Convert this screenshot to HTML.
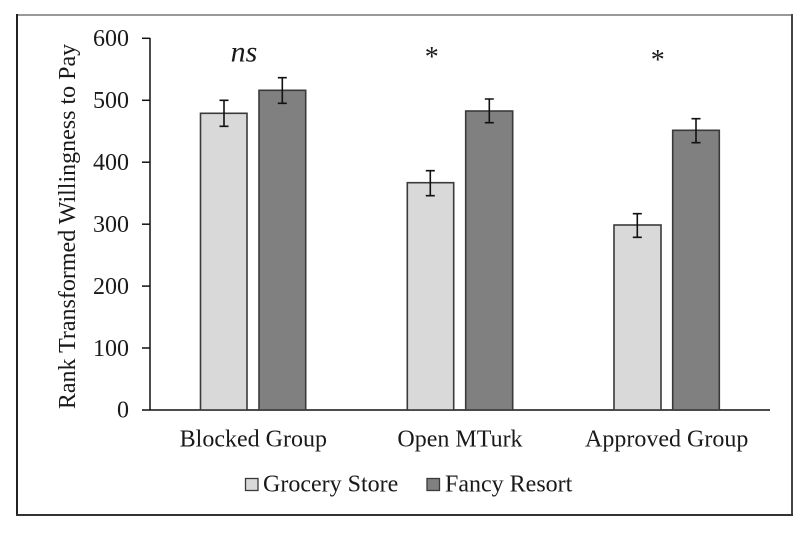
<!DOCTYPE html>
<html><head><meta charset="utf-8"><style>
html,body{margin:0;padding:0;background:#fff;}
svg{display:block;}
text{font-family:"Liberation Serif","Times New Roman",serif;fill:#1a1a1a;}
</style></head><body>
<svg width="807" height="533" viewBox="0 0 807 533" xmlns="http://www.w3.org/2000/svg">
<rect x="0" y="0" width="807" height="533" fill="#fff"/>
<!-- frame -->
<line x1="16" y1="15" x2="793" y2="15" stroke="#999" stroke-width="2"/>
<line x1="17" y1="14" x2="17" y2="516" stroke="#222" stroke-width="2"/>
<line x1="792" y1="14" x2="792" y2="516" stroke="#444" stroke-width="2"/>
<line x1="16" y1="515" x2="793" y2="515" stroke="#333" stroke-width="2"/>

<!-- y axis title -->
<text transform="translate(75,226.5) rotate(-90)" text-anchor="middle" font-size="24">Rank Transformed Willingness to Pay</text>

<!-- ticks & labels -->
<g stroke="#111" stroke-width="1.5">
<line x1="150" y1="38" x2="150" y2="410.5"/>
<line x1="142" y1="38.3" x2="150" y2="38.3"/>
<line x1="142" y1="100.3" x2="150" y2="100.3"/>
<line x1="142" y1="162.2" x2="150" y2="162.2"/>
<line x1="142" y1="224.2" x2="150" y2="224.2"/>
<line x1="142" y1="286.1" x2="150" y2="286.1"/>
<line x1="142" y1="348" x2="150" y2="348"/>
<line x1="142" y1="410" x2="770" y2="410"/>
</g>
<g font-size="24" text-anchor="end">
<text x="129" y="46">600</text>
<text x="129" y="108">500</text>
<text x="129" y="170">400</text>
<text x="129" y="232">300</text>
<text x="129" y="294">200</text>
<text x="129" y="356">100</text>
<text x="129" y="417.5">0</text>
</g>

<!-- bars -->
<g stroke="#3a3a3a" stroke-width="1.6">
<rect x="200.5" y="113.3" width="46.5" height="296.7" fill="#d9d9d9"/>
<rect x="259" y="90.3" width="46.7" height="319.7" fill="#808080"/>
<rect x="407.3" y="182.7" width="46.4" height="227.3" fill="#d9d9d9"/>
<rect x="465.7" y="111" width="47" height="299" fill="#808080"/>
<rect x="614" y="225" width="47" height="185" fill="#d9d9d9"/>
<rect x="672.7" y="130.3" width="46.6" height="279.7" fill="#808080"/>
</g>

<!-- error bars -->
<g stroke="#111" stroke-width="1.6" fill="none">
<path d="M224 100.3V126.3M219.5 100.3H228.5M219.5 126.3H228.5"/>
<path d="M282.3 77.7V103.3M277.8 77.7H286.8M277.8 103.3H286.8"/>
<path d="M430.3 170.7V195.7M425.8 170.7H434.8M425.8 195.7H434.8"/>
<path d="M489.3 99V122.7M484.8 99H493.8M484.8 122.7H493.8"/>
<path d="M637.3 213.7V237.3M632.8 213.7H641.8M632.8 237.3H641.8"/>
<path d="M696 118.7V142.7M691.5 118.7H700.5M691.5 142.7H700.5"/>
</g>

<!-- annotations -->
<text x="244" y="61.7" font-size="30" font-style="italic" text-anchor="middle">ns</text>
<text x="431.7" y="66" font-size="28" text-anchor="middle">*</text>
<text x="657.7" y="69" font-size="28" text-anchor="middle">*</text>

<!-- category labels -->
<g font-size="24" text-anchor="middle">
<text x="253.3" y="446.7">Blocked Group</text>
<text x="460" y="446.7">Open MTurk</text>
<text x="666.7" y="446.7">Approved Group</text>
</g>

<!-- legend -->
<rect x="245.5" y="478.5" width="12.5" height="12" fill="#d9d9d9" stroke="#3a3a3a" stroke-width="1.3"/>
<text x="263" y="491.7" font-size="24">Grocery Store</text>
<rect x="427" y="478.5" width="12.5" height="12" fill="#808080" stroke="#3a3a3a" stroke-width="1.3"/>
<text x="445" y="491.7" font-size="24">Fancy Resort</text>
</svg>
</body></html>
